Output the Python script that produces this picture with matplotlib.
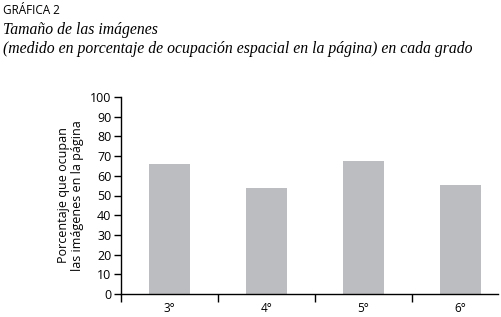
import matplotlib.pyplot as plt

grados = ['3°', '4°', '5°', '6°']
porcentaje = [66, 54, 67.5, 55.3]
yticks = list(range(0, 101, 10))

plt.rcParams['font.family'] = ['Open Sans', 'DejaVu Sans']

fig = plt.figure(figsize=(5.02, 3.17), dpi=100)
ax = fig.add_axes([121/502, 1 - 294/317, (498 - 121)/502, (294 - 97)/317])

x = list(range(len(grados)))
ax.bar(x, porcentaje, width=0.42, color='#bcbdc0')

ax.set_ylim(0, 100)
ax.set_xlim(-0.5, 3.39)
ax.set_yticks(yticks)
ax.tick_params(axis='y', direction='out', length=5, width=1, labelsize=9, pad=2)

ax.set_xticks(x)
ax.set_xticklabels(grados, fontsize=8.5)
ax.tick_params(axis='x', which='major', length=0, pad=6)
ax.set_xticks([-0.5, 0.5, 1.5, 2.5], minor=True)
ax.tick_params(axis='x', which='minor', direction='out', length=6, width=1)

for s in ['top', 'right']:
    ax.spines[s].set_visible(False)
for s in ['left', 'bottom']:
    ax.spines[s].set_linewidth(1)

ax.set_ylabel('Porcentaje que ocupan\nlas imágenes en la página', fontsize=9,
              linespacing=1.15, labelpad=4)

fig.text(3/502, 1 - 14/317, 'GRÁFICA 2', fontsize=8.5, ha='left', va='baseline')
fig.text(3/502, 1 - 34/317, 'Tamaño de las imágenes', fontsize=11.3,
         family='Liberation Serif', style='italic', ha='left', va='baseline')
fig.text(3/502, 1 - 53/317,
         '(medido en porcentaje de ocupación espacial en la página) en cada grado',
         fontsize=11.3, family='Liberation Serif', style='italic',
         ha='left', va='baseline')

fig.savefig('out.png', dpi=100)
